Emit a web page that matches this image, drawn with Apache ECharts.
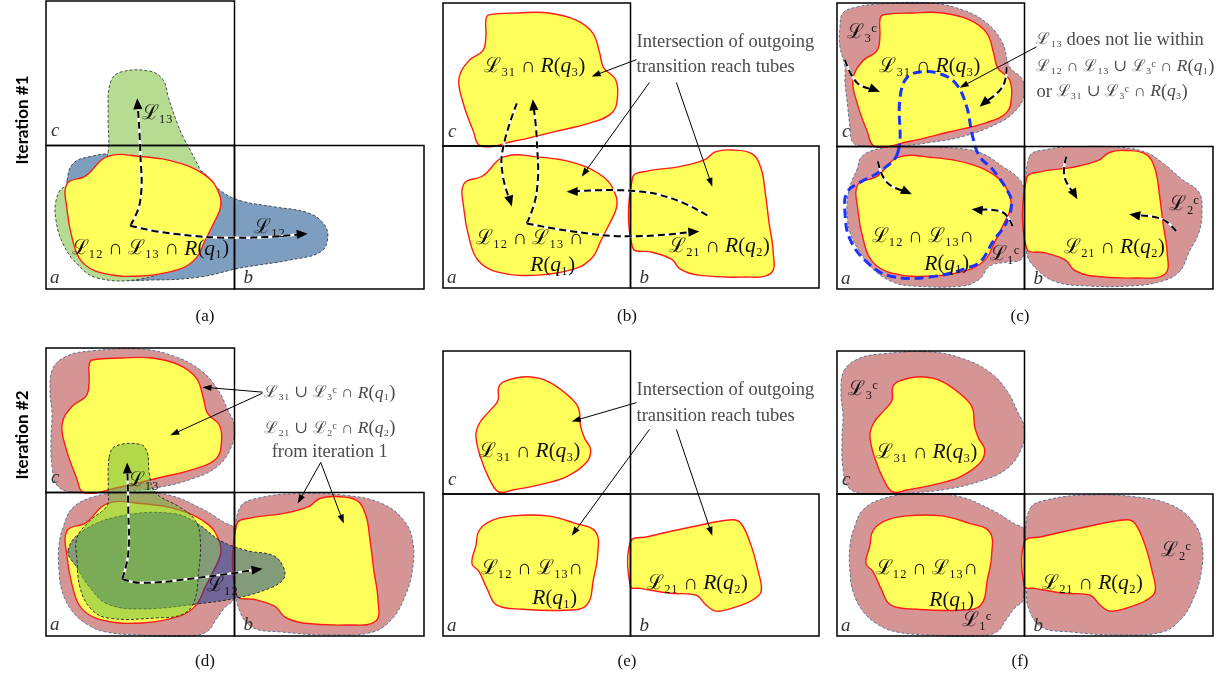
<!DOCTYPE html>
<html><head><meta charset="utf-8">
<script src="https://cdn.jsdelivr.net/npm/echarts@6/dist/echarts.min.js"></script>
<style>html,body{margin:0;padding:0;background:#fff}#c{width:1226px;height:679px}</style>
</head><body><div id="c"></div>
<script>
// ---------- DATA (panel-local units: x 0..377 right, y 0..287 down; cell boundary at x=188, y=144) ----------
const CELLS = [[0,0,188,144],[0,144,188,287],[188,144,377,287]];
const CELL_LABELS = [[5,139,'c'],[4,286,'a'],[197,286,'b']];

const Y_c1 = [[43,17],[46,12],[76,10],[106,10],[133,17],[150,30],[157,50],[161,65],[173,77],[175,94],[170,110],[150,120],[110,130],[72,139],[38,144],[30,128],[20,100],[16,76],[26,58],[40,48],[43,34]];
const Y_a1 = [[21,182],[40,174],[61,155],[95,155],[135,162],[162,176],[173,193],[174,206],[167,222],[158,240],[150,256],[134,267],[96,274],[55,271],[35,259],[26,236],[21,208]];
const Y_b1 = [[190,176],[206,169],[236,165],[262,158],[273,150],[289,148],[310,152],[319,167],[323,190],[327,222],[331,250],[329,272],[300,276],[256,274],[238,268],[229,258],[210,251],[190,246]];
const Y_c2 = [[56,36],[63,30],[85,26],[106,31],[128,47],[136,58],[138,76],[142,88],[148,99],[144,112],[125,126],[104,133],[70,140],[56,142],[47,130],[38,108],[33,85],[37,72],[47,60],[55,50]];
const Y_a2 = [[36,181],[48,171],[70,166],[105,166],[131,173],[153,182],[155,206],[151,229],[144,256],[122,261],[80,260],[54,256],[44,239],[36,222],[29,214],[33,196]];
const Y_b2 = [[188,192],[205,187],[250,177],[290,170],[299,174],[309,196],[316,222],[319,242],[310,251],[290,259],[274,262],[264,256],[254,246],[228,244],[198,239],[188,237]];
const P_c1 = [[6,10],[20,4],[43,1],[93,0],[126,7],[150,20],[166,40],[173,64],[186,77],[187,94],[180,107],[163,120],[126,134],[93,140],[60,144],[30,144],[16,140],[13,124],[10,97],[8,80],[8,64],[3,44],[3,24]];
const P_a1 = [[25,154],[43,146],[76,144],[110,145],[143,150],[166,164],[183,177],[188,190],[188,237],[185,257],[170,260],[153,264],[143,277],[126,284],[76,284],[56,280],[36,267],[23,250],[13,230],[10,204],[13,184],[20,167]];
const P_b1 = [[193,154],[210,147],[243,144],[286,145],[310,150],[326,160],[346,177],[363,190],[366,210],[363,230],[353,250],[343,270],[323,280],[293,284],[253,284],[220,280],[200,267],[190,250],[190,197]];
const P_c2 = [[7,20],[21,8],[44,3],[94,1],[127,8],[154,22],[171,41],[181,61],[188,78],[185,98],[171,118],[144,131],[111,139],[74,143],[30,144],[12,138],[6,118],[5,90],[6,65],[4,42]];
const P_a2 = [[26,160],[45,149],[76,144],[120,146],[155,160],[178,174],[188,180],[190,206],[187,250],[178,259],[170,270],[160,283],[140,287],[93,286],[60,283],[42,276],[26,262],[16,242],[13,222],[13,196],[18,176]];
const P_b2 = [[194,158],[210,150],[250,145],[300,147],[335,155],[357,172],[366,194],[365,224],[357,250],[345,270],[326,283],[285,286],[235,283],[205,278],[192,259],[190,242],[189,185]];
const G13_1 = [[64,82],[74,71],[104,70],[117,79],[122,96],[131,122],[137,136],[144,149],[154,169],[160,185],[155,230],[130,262],[94,277],[51,276],[31,262],[17,242],[10,219],[10,199],[17,186],[30,185],[55,170],[62,150],[62,116]];
const B12_1 = [[21,179],[27,162],[44,155],[71,152],[111,156],[154,169],[174,189],[194,199],[227,205],[261,211],[277,222],[281,236],[274,250],[244,258],[194,266],[154,275],[107,278],[67,276],[44,259],[27,232],[21,199]];
const G13_2 = [[63,109],[69,98],[94,96],[101,104],[103,125],[109,144],[134,159],[149,172],[154,192],[152,225],[148,252],[137,265],[111,269],[61,269],[44,259],[34,239],[31,212],[31,189],[44,172],[61,157],[62,142]];
const B12_2 = [[22,202],[37,182],[77,167],[127,165],[151,175],[174,192],[201,202],[227,207],[237,219],[237,230],[224,239],[191,249],[151,255],[94,260],[61,255],[44,239],[31,219]];
const BL13 = [[61,150],[63,97],[70,75],[86,69],[106,72],[120,82],[130,104],[136,134],[143,154],[156,167],[170,187],[175,200],[170,220],[156,240],[146,257],[136,264],[93,275],[53,274],[30,260],[13,237],[8,210],[10,190],[23,180],[43,169]];

const SHAPES = {Y_c1,Y_a1,Y_b1,Y_c2,Y_a2,Y_b2,P_c1,P_a1,P_b1,P_c2,P_a2,P_b2,G13_1,B12_1,G13_2,B12_2,BL13};

const LAYERS_A = [['B12_1','blue'],['G13_1','green'],['Y_a1','yellow']];
const LAYERS_B = [['Y_c1','yellow'],['Y_a1','yellow'],['Y_b1','yellow']];
const LAYERS_C = [['P_c1','pink'],['P_a1','pink'],['P_b1','pink'],['Y_c1','yellow'],['Y_a1','yellow'],['Y_b1','yellow'],['BL13','blueDash']];
const LAYERS_D = [['P_c2','pink'],['P_a2','pink'],['P_b2','pink'],['Y_c1','yellow'],['Y_a1','yellow'],['Y_b1','yellow'],['B12_2','blueT'],['G13_2','greenT']];
const LAYERS_E = [['Y_c2','yellow'],['Y_a2','yellow'],['Y_b2','yellow']];
const LAYERS_F = [['P_c2','pink'],['P_a2','pink'],['P_b2','pink'],['Y_c2','yellow'],['Y_a2','yellow'],['Y_b2','yellow']];

// dashed transition arrows
const DASH_A = [[[84,224],[94,199],[94,149],[91,97]], [[84,224],[127,232],[194,236],[261,232]]];
const DASH_B = [[[74,101],[60,147],[60,174],[69,205]], [[84,222],[94,190],[94,137],[90,97]], [[84,222],[130,230],[187,235],[257,230]], [[265,214],[230,197],[187,189],[124,190]]];
const DASH_C = [[[8,57],[20,80],[43,89]], [[170,64],[166,84],[143,104]], [[41,159],[50,180],[75,192]], [[176,224],[166,210],[135,207]], [[230,154],[228,174],[241,197]], [[340,229],[326,217],[293,212]]];
const DASH_D = [[[76,230],[82,205],[82,159],[81,114]], [[76,230],[94,234],[144,230],[216,220]]];
const DASH_E = [];
const DASH_F = [];

// annotation pointer arrows
const NOTE_A = [];
const NOTE_B = [[[194,57],[149,74]], [[207,80],[139,175]], [[234,80],[270,185]]];
const NOTE_C = [[[200,44],[123,85]]];
const NOTE_D = [[[216,44],[156,39]], [[216,45],[124,87]], [[274,114],[251,155]], [[274,114],[297,175]]];
const NOTE_E = [[[194,52],[129,71]], [[207,79],[129,186]], [[234,79],[270,186]]];
const NOTE_F = [];

// texts: [x, y, text, kind]  (m = math label, n = note left, nc = note centred)
const TEXT_A = [[111,112,'ℒ₁₃','m'],[223,226,'ℒ₁₂','m'],[104,247,'ℒ₁₂ ∩ ℒ₁₃ ∩ R(q₁)','m']];
const TEXT_B = [[92,64,'ℒ₃₁ ∩ R(q₃)','m'],[87,237,'ℒ₁₂ ∩ ℒ₁₃ ∩','m'],[110,264,'R(q₁)','m'],[277,245,'ℒ₂₁ ∩ R(q₂)','m'],
  [194,39,'Intersection of outgoing','n'],[194,65,'transition reach tubes','n']];
const TEXT_C = [[25,30,'ℒ₃ᶜ','m'],[93,64,'ℒ₃₁ ∩ R(q₃)','m'],[86,234,'ℒ₁₂ ∩ ℒ₁₃∩','m'],[110,262,'R(q₁)','m'],[168,252,'ℒ₁ᶜ','m'],
  [278,245,'ℒ₂₁ ∩ R(q₂)','m'],[348,202,'ℒ₂ᶜ','m'],
  [200,37,'ℒ₁₃ does not lie within','n'],[200,64,'ℒ₁₂ ∩ ℒ₁₃ ∪ ℒ₃ᶜ ∩ R(q₁)','n'],[200,89,'or ℒ₃₁ ∪ ℒ₃ᶜ ∩ R(q₃)','n']];
const TEXT_D = [[97,132,'ℒ₁₃','m'],[176,237,'ℒ₁₂','m'],
  [283,45,'ℒ₃₁ ∪ ℒ₃ᶜ ∩ R(q₁)','nc'],[283,80,'ℒ₂₁ ∪ ℒ₂ᶜ ∩ R(q₂)','nc'],[283,104,'from iteration 1','nc']];
const TEXT_E = [[87,101,'ℒ₃₁ ∩ R(q₃)','m'],[89,219,'ℒ₁₂ ∩ ℒ₁₃∩','m'],[112,249,'R(q₁)','m'],[255,234,'ℒ₂₁ ∩ R(q₂)','m'],
  [194,39,'Intersection of outgoing','n'],[194,66,'transition reach tubes','n']];
const TEXT_F = [[26,39,'ℒ₃ᶜ','m'],[90,102,'ℒ₃₁ ∩ R(q₃)','m'],[90,219,'ℒ₁₂ ∩ ℒ₁₃∩','m'],[115,251,'R(q₁)','m'],[140,271,'ℒ₁ᶜ','m'],
  [256,234,'ℒ₂₁ ∩ R(q₂)','m'],[340,201,'ℒ₂ᶜ','m']];

const CAPTIONS = ['(a)','(b)','(c)','(d)','(e)','(f)'];
const ROW_TITLES = ['Iteration #1','Iteration #2'];

// ---------- STYLES / LAYOUT ----------
const STY = {
  yellow:{fill:'#ffff5c',stroke:'#ff1a1a',lineWidth:1.4},
  pink:{fill:'#d69595',stroke:'#56779a',lineWidth:1,lineDash:[3,2]},
  blue:{fill:'#7e9ec0',stroke:'#3a3a3a',lineWidth:0.9,lineDash:[3,2]},
  green:{fill:'#b5dc90',stroke:'#3a3a3a',lineWidth:0.9,lineDash:[3,2]},
  blueT:{fill:'rgba(10,55,150,0.5)',stroke:'#222',lineWidth:0.9,lineDash:[3,2]},
  greenT:{fill:'rgba(115,185,60,0.55)',stroke:'#222',lineWidth:0.9,lineDash:[3,2]},
  blueDash:{fill:'none',stroke:'#1a33ff',lineWidth:3,lineDash:[9,5]}
};
const PANELS = [
  {layers:LAYERS_A,dash:DASH_A,note:NOTE_A,text:TEXT_A,g:[46,1,378,288]},
  {layers:LAYERS_B,dash:DASH_B,note:NOTE_B,text:TEXT_B,g:[443,3,376,285]},
  {layers:LAYERS_C,dash:DASH_C,note:NOTE_C,text:TEXT_C,g:[837,3,376,286]},
  {layers:LAYERS_D,dash:DASH_D,note:NOTE_D,text:TEXT_D,g:[46,348,378,288]},
  {layers:LAYERS_E,dash:DASH_E,note:NOTE_E,text:TEXT_E,g:[443,351,376,285]},
  {layers:LAYERS_F,dash:DASH_F,note:NOTE_F,text:TEXT_F,g:[837,351,376,285]}
];
const SERIF = '"Liberation Serif","DejaVu Serif",serif';
const MATHCH = 'ℒ₀₁₂₃₄₅₆₇₈₉ᶜ∩∪';

function mathRich(s){
  const cls=ch=>MATHCH.includes(ch)?'m':((ch==='R'||ch==='q')?'i':'t');
  let out='',cur=null,buf='';
  for(const ch of s){
    const c=cls(ch);
    if(c!==cur){ if(buf) out+='{'+cur+'|'+buf+'}'; buf=''; cur=c; }
    buf+=ch;
  }
  if(buf) out+='{'+cur+'|'+buf+'}';
  return out;
}
function richFor(color,tSize,mSize){
  return {t:{fontFamily:SERIF,fontSize:tSize,fill:color},
          m:{fontFamily:SERIF,fontSize:mSize,fill:color},
          i:{fontFamily:SERIF,fontStyle:'italic',fontSize:mSize+1,fill:color}};
}
function arrowEls(api,pts,dashed){
  const px=pts.map(p=>api.coord(p));
  const n=px.length, P=px[n-1], Q=px[n-2];
  let dx=P[0]-Q[0], dy=P[1]-Q[1]; const L=Math.hypot(dx,dy)||1; dx/=L; dy/=L;
  const hl=dashed?11:9, hw=dashed?4.6:3.2;
  const B=[P[0]-dx*hl,P[1]-dy*hl];
  const head=[[P[0],P[1]],[B[0]-dy*hw,B[1]+dx*hw],[B[0]+dy*hw,B[1]-dx*hw]];
  const lp=px.slice(0,n-1).concat([[P[0]-dx*hl*0.6,P[1]-dy*hl*0.6]]);
  const els=[];
  if(dashed){
    els.push({type:'polyline',shape:{points:lp,smooth:0.45},style:{stroke:'#fff',lineWidth:2.4,fill:'none'}});
    els.push({type:'polyline',shape:{points:lp,smooth:0.45},style:{stroke:'#000',lineWidth:2,lineDash:[7,4],fill:'none'}});
  } else {
    els.push({type:'polyline',shape:{points:lp},style:{stroke:'#000',lineWidth:1,fill:'none'}});
  }
  els.push({type:'polygon',shape:{points:head},style:{fill:'#000'}});
  return els;
}

const grid=[],xAxis=[],yAxis=[],series=[];
PANELS.forEach((p,i)=>{
  grid.push({left:p.g[0],top:p.g[1],width:p.g[2],height:p.g[3]});
  xAxis.push({type:'value',gridIndex:i,min:0,max:377,show:false});
  yAxis.push({type:'value',gridIndex:i,min:0,max:287,inverse:true,show:false});
  const base={type:'custom',xAxisIndex:i,yAxisIndex:i,clip:false,silent:true,animation:false};
  series.push(Object.assign({},base,{z:1,data:p.layers.map((_,k)=>[k]),renderItem:(params,api)=>{
    const [name,sty]=p.layers[params.dataIndex];
    const pts=SHAPES[name].map(q=>api.coord(q));
    return {type:'polygon',shape:{points:pts,smooth:0.4},style:STY[sty]};
  }}));
  series.push(Object.assign({},base,{z:2,data:CELLS.map((_,k)=>[k]),renderItem:(params,api)=>{
    const c=CELLS[params.dataIndex];
    const pts=[[c[0],c[1]],[c[2],c[1]],[c[2],c[3]],[c[0],c[3]]].map(q=>api.coord(q));
    return {type:'polygon',shape:{points:pts},style:{fill:'none',stroke:'#000',lineWidth:1.5}};
  }}));
  const arrows=p.dash.map(a=>[a,true]).concat(p.note.map(a=>[a,false]));
  series.push(Object.assign({},base,{z:3,data:arrows.map((_,k)=>[k]),renderItem:(params,api)=>{
    const [pts,d]=arrows[params.dataIndex];
    return {type:'group',children:arrowEls(api,pts,d)};
  }}));
  const texts=p.text.concat(CELL_LABELS.map(c=>[c[0],c[1],c[2],'cell']));
  series.push(Object.assign({},base,{z:4,data:texts.map((_,k)=>[k]),renderItem:(params,api)=>{
    const t=texts[params.dataIndex];
    const pt=api.coord([t[0],t[1]]);
    if(t[3]==='cell'){
      return {type:'text',x:pt[0],y:pt[1],style:{text:t[2],fontFamily:SERIF,fontStyle:'italic',fontSize:19,fill:'#333',align:'left',verticalAlign:'bottom'}};
    }
    const note=t[3]!=='m';
    return {type:'text',x:pt[0],y:pt[1],style:{text:mathRich(t[2]),
      rich:note?richFor('#4a4a4a',18.5,16.5):richFor('#111',20.5,20.5),
      align:t[3]==='n'?'left':'center',verticalAlign:'middle'}};
  }}));
});

const capX=[205,627,1020], capY=[317,662], rowY=[120,435];
const graphic=[];
CAPTIONS.forEach((c,i)=>graphic.push({type:'text',x:capX[i%3],y:capY[Math.floor(i/3)],
  style:{text:c,fontFamily:SERIF,fontSize:17,fill:'#111',align:'center',verticalAlign:'middle'}}));
ROW_TITLES.forEach((t,i)=>graphic.push({type:'text',x:23,y:rowY[i],rotation:Math.PI/2,
  style:{text:t,fontFamily:'Lato, "Liberation Sans", sans-serif',fontWeight:'bold',fontSize:17,fill:'#000',align:'center',verticalAlign:'middle'}}));

const chart=echarts.init(document.getElementById('c'));
chart.setOption({animation:false,backgroundColor:'#fff',grid,xAxis,yAxis,series,graphic});
</script></body></html>
